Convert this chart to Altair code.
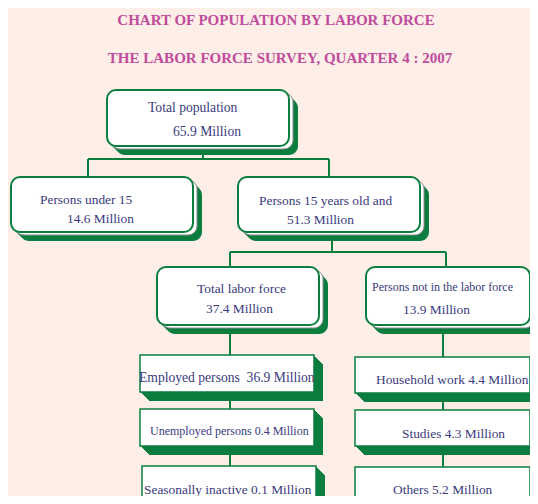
import altair as alt
import pandas as pd

# ---- data ----
titles = ["CHART OF POPULATION BY LABOR FORCE", "THE LABOR FORCE SURVEY, QUARTER 4 : 2007"]
categories = ["Total population", "Persons under 15", "Persons 15 years old and",
              "Total labor force", "Persons not in the labor force"]
category_values = [65.9, 14.6, 51.3, 37.4, 13.9]
sub_categories = ["Employed persons\u00a0", "Unemployed persons", "Seasonally inactive",
                  "Household work", "Studies", "Others"]
sub_values = [36.9, 0.4, 0.1, 4.4, 4.3, 5.2]

# ---- layout (pixel space of the page) ----
round_boxes = [(107, 289, 90, 146), (11, 193, 177, 232), (238, 420, 177, 232),
               (157, 319, 267, 325), (366, 530, 267, 325)]
square_boxes = [(140, 314, 355, 392), (140, 314, 409, 446), (142, 316, 466, 512),
                (355, 530, 357, 393), (355, 530, 410, 446), (355, 530, 467, 512)]
cat_label_pos = [(148, 108, 13.6), (40, 200, 13.4), (259, 201, 13.4), (197, 289, 13.4), (372, 287, 12)]
cat_value_pos = [(173, 132, 13.6), (67, 219, 13.4), (287, 220, 13.4), (206, 309, 13.4), (403, 310, 13.4)]
sub_pos = [(139, 378, 13.6), (150, 431, 12), (144, 490, 13.4), (376, 380, 13.4), (402, 434, 13.4), (393, 490, 13.4)]
connectors = [(203, 146, 203, 159), (88, 159, 329, 159), (88, 159, 88, 177), (329, 159, 329, 177),
              (332, 232, 332, 252), (230, 252, 446, 252), (230, 252, 230, 267), (446, 252, 446, 267),
              (230, 325, 230, 355), (443, 325, 443, 357), (230, 392, 230, 409), (230, 446, 230, 466),
              (443, 393, 443, 410), (443, 446, 443, 467)]
title_pos = [(276, 20), (280, 58)]

GREEN = "#0B7E3F"
PINK = "#C04C9C"
NAVY = "#3A3A7C"
BG = "#FDEEE7"
FONT = "Liberation Serif"

# page pixel == data coordinate (chart starts at the 8px page margin)
xs = alt.Scale(domain=[8, 530], nice=False, zero=False)
ys = alt.Scale(domain=[8, 496], nice=False, zero=False, reverse=True)


def X(f):
    return alt.X(f, type="quantitative", scale=xs, axis=None)


def Y(f):
    return alt.Y(f, type="quantitative", scale=ys, axis=None)


# connectors
conn_df = pd.DataFrame(connectors, columns=["x", "y", "x2", "y2"])
rules = alt.Chart(conn_df).mark_rule(color=GREEN, strokeWidth=2).encode(
    x=X("x"), y=Y("y"), x2="x2", y2="y2")

# extrusion shadows
shadow_rows = []
for (a, b, c, d) in round_boxes:
    for k in range(1, 10):
        shadow_rows.append(dict(x=a + k, x2=b + k, y=c + k, y2=d + k, kind="round"))
for (a, b, c, d) in square_boxes:
    for k in range(1, 10):
        shadow_rows.append(dict(x=a + k, x2=b + k, y=c + k, y2=d + k, kind="square"))
sh = pd.DataFrame(shadow_rows)
shadow_round = alt.Chart(sh[sh.kind == "round"]).mark_rect(color=GREEN, cornerRadius=9).encode(
    x=X("x"), x2="x2", y=Y("y"), y2="y2")
shadow_sq = alt.Chart(sh[sh.kind == "square"]).mark_rect(color=GREEN).encode(
    x=X("x"), x2="x2", y=Y("y"), y2="y2")

# grey inner edge of extrusion
grey_df = pd.DataFrame([dict(x=a + 4, x2=b + 4, y=c + 3, y2=d + 3) for (a, b, c, d) in round_boxes])
grey = alt.Chart(grey_df).mark_rect(fill="white", stroke="#8a8a8a", strokeWidth=1, cornerRadius=9).encode(
    x=X("x"), x2="x2", y=Y("y"), y2="y2")

# boxes
rb = pd.DataFrame(round_boxes, columns=["x", "x2", "y", "y2"])
boxes_round = alt.Chart(rb).mark_rect(fill="white", stroke=GREEN, strokeWidth=2, cornerRadius=9).encode(
    x=X("x"), x2="x2", y=Y("y"), y2="y2")
sb = pd.DataFrame(square_boxes, columns=["x", "x2", "y", "y2"])
boxes_sq = alt.Chart(sb).mark_rect(fill="white", stroke=GREEN, strokeWidth=1.5).encode(
    x=X("x"), x2="x2", y=Y("y"), y2="y2")

# texts
text_rows = []
for name, (x, y, s) in zip(categories, cat_label_pos):
    text_rows.append(dict(x=x, y=y, size=s, t=name))
for v, (x, y, s) in zip(category_values, cat_value_pos):
    text_rows.append(dict(x=x, y=y, size=s, t=f"{v} Million"))
for name, v, (x, y, s) in zip(sub_categories, sub_values, sub_pos):
    text_rows.append(dict(x=x, y=y, size=s, t=f"{name} {v} Million"))
tx = pd.DataFrame(text_rows)
texts = alt.Chart(tx).mark_text(align="left", baseline="middle", font=FONT, color=NAVY).encode(
    x=X("x"), y=Y("y"), text="t:N", size=alt.Size("size:Q", scale=None, legend=None))

tt = pd.DataFrame([dict(x=x, y=y, t=t) for t, (x, y) in zip(titles, title_pos)])
title_text = alt.Chart(tt).mark_text(align="center", baseline="middle", font=FONT, fontWeight="bold",
                                     fontSize=15, color=PINK).encode(
    x=X("x"), y=Y("y"), text="t:N")

chart = alt.layer(rules, shadow_round, shadow_sq, grey, boxes_round, boxes_sq, texts, title_text).properties(
    width=522, height=488,
    autosize=alt.AutoSizeParams(type="none"),
    padding=0,
    background=BG,
).configure_view(stroke=None, clip=False)

chart.save("out.html", embed_options={"renderer": "svg", "actions": False})
